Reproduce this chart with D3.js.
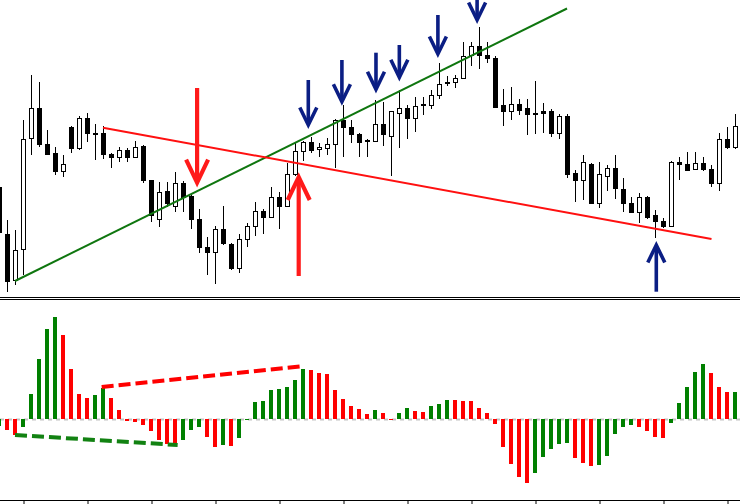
<!DOCTYPE html>
<html>
<head>
<meta charset="utf-8">
<script src="https://cdn.jsdelivr.net/npm/d3@7"></script>
<style>
  html, body { margin: 0; padding: 0; background: #ffffff; }
  svg { display: block; }
</style>
</head>
<body>
<svg id="chart" width="740" height="504"></svg>
<script>
// ---------- DATA (price in arbitrary points) ----------
const openP  = [113,66,20,51,162,192,156,147,128,172,152,181,167,167,146,143,150,143,154,120,81,109,93,117,104,81,53,47,71,56,32,61,73,89,83,103,94,125,149,158,151,152,156,180,172,166,160,159,176,164,187,192,182,196,195,204,218,218,222,244,253,245,242,195,189,196,191,187,189,189,167,184,127,119,136,97,124,132,111,96,88,103,85,79,73,138,136,131,137,131,117,161,153];
const highP  = [115,80,70,180,225,218,170,153,145,174,184,187,176,174,147,153,152,159,155,120,118,118,128,119,105,91,63,74,94,57,66,77,98,91,113,108,137,158,159,163,157,162,181,195,180,167,161,200,198,189,210,195,203,203,210,237,224,225,258,258,273,258,244,211,213,201,201,219,197,191,186,186,130,145,137,138,135,145,122,103,107,104,90,82,139,143,148,148,143,135,167,173,186];
const lowP   = [64,8,15,25,145,153,145,125,123,147,150,158,140,141,132,138,138,143,117,78,73,93,88,88,71,47,25,16,55,30,27,53,64,66,82,71,94,124,139,147,143,145,132,143,157,143,143,158,154,124,152,161,168,185,191,201,214,212,221,234,231,237,193,174,180,185,165,166,167,163,161,122,98,100,96,92,109,101,88,87,77,81,62,72,73,120,129,130,129,113,109,151,151];
const closeP = [67,19,50,161,192,155,146,128,136,152,181,167,165.5,145,142.5,150,143,153,119,85,108,96,117,103,81,53,47,71,57,32,61,73,89,83,103,94,125,148,158,150,153,155,180,172,166,158,158.3,176,166,188,192,182,194,194.3,204,216,217,222,243,254,245,242,193,189,196,190,186,186,187,167,184,126,119,138,97,125,132,112,97,88,103,83,79,73,138,136,130,137,131,117,161,153,174];

// oscillator histogram values
const oscValues = [-6.7,-11,-16,-8,25,60,90,102,84,50,25,21,24,31,21,9,-1.7,-2.7,-6,-11.7,-21,-25,-25.3,-21,-11,-7.7,-17.7,-27.7,-26,-27,-18.7,-1,17,18,29,30,32,39,50,49.5,46,45,29,20,13,10,5,9,6,-0.5,6,11,8,7,13,15,19,18.8,18,17.8,11,6,-5,-27.7,-45,-57.7,-63.7,-53.7,-37.7,-29.7,-24.7,-24.3,-38.7,-43.7,-46.7,-46,-36.7,-14.7,-7.7,-5.7,-7.7,-11.7,-17.7,-18.7,-3.7,16,32,47,55,46,32,27,27.5];

// time-axis ticks (bar indices)
const tickIndex = [3,11,19,27,35,43,51,59,67,75,83,91];

// trend lines on price panel: [barIndex1, price1, barIndex2, price2]
const greenTrend = [1.94, 19, 70.94, 291.5];
const redTrend   = [12.94, 172.3, 89.0, 61];

// divergence lines on oscillator: [barIndex1, value1, barIndex2, value2]
const redDiv   = [12.77, 32, 37.8, 52.7];
const greenDiv = [1.94, -16, 22.27, -26];

// arrows: barIndex, tail price, tip price
const redArrows  = [[24.7, 212, 117.3], [37.4, 24, 123]];
const blueArrows = [[38.6, 220, 175], [42.8, 240, 198.3], [47.06, 247.3, 210.7], [49.98, 255, 222.7], [54.8, 285, 246], [59.7, 300, 280], [82.1, 8.3, 55]];

// ---------- DRAW ----------
const svg = d3.select("#chart");
const n = openP.length;

const x = d3.scaleLinear().domain([0, n - 1]).range([-0.5, 735.5]);
const yP = d3.scaleLinear().domain([0, 300]).range([300, 0]);
const yO = d3.scaleLinear().domain([-80, 80]).range([499, 339]);

const snap = v => Math.round(v - 0.5) + 0.5;

// candles
const candles = svg.append("g");
d3.range(n).forEach(i => {
  const o = openP[i], h = highP[i], l = lowP[i], c = closeP[i];
  const cx = x(i);
  const up = c >= o;
  candles.append("line")
    .attr("x1", cx).attr("x2", cx)
    .attr("y1", Math.round(yP(h))).attr("y2", Math.round(yP(l)))
    .attr("stroke", "#000").attr("stroke-width", 1);
  const top = snap(yP(Math.max(o, c)));
  const bot = snap(yP(Math.min(o, c)));
  candles.append("rect")
    .attr("x", cx - 2).attr("width", 4)
    .attr("y", top).attr("height", Math.max(1, bot - top))
    .attr("fill", up ? "#ffffff" : "#000000")
    .attr("stroke", "#000").attr("stroke-width", 1);
});

// trend lines
function segP(g, arr, color, w) {
  g.append("line")
    .attr("x1", x(arr[0])).attr("y1", yP(arr[1]))
    .attr("x2", x(arr[2])).attr("y2", yP(arr[3]))
    .attr("stroke", color).attr("stroke-width", w);
}
const lines = svg.append("g");
segP(lines, greenTrend, "#0f760f", 2);
segP(lines, redTrend, "#ff1010", 2);

// arrows
function arrow(g, a, color, w, hw, hl) {
  const ax = x(a[0]), y0 = yP(a[1]), y1 = yP(a[2]);
  const dir = y1 > y0 ? 1 : -1;
  g.append("line")
    .attr("x1", ax).attr("y1", y0).attr("x2", ax).attr("y2", y1 - dir * 2)
    .attr("stroke", color).attr("stroke-width", w);
  g.append("path")
    .attr("d", `M${ax - hw},${y1 - dir * hl} L${ax},${y1} L${ax + hw},${y1 - dir * hl}`)
    .attr("fill", "none").attr("stroke", color).attr("stroke-width", w)
    .attr("stroke-linejoin", "miter").attr("stroke-miterlimit", 10);
}
const arrowsG = svg.append("g");
redArrows.forEach(a => arrow(arrowsG, a, "#ff1a1a", 4.2, 11, 23));
blueArrows.forEach(a => arrow(arrowsG, a, "#0b1e84", 3.6, 8.5, 17.5));

// separator
svg.append("line").attr("x1", 0).attr("x2", 740).attr("y1", 297.5).attr("y2", 297.5).attr("stroke", "#000");
svg.append("line").attr("x1", 0).attr("x2", 740).attr("y1", 299.5).attr("y2", 299.5).attr("stroke", "#000");

// oscillator zero line
svg.append("line")
  .attr("x1", 0).attr("x2", 740)
  .attr("y1", Math.round(yO(0)) + 0.5).attr("y2", Math.round(yO(0)) + 0.5)
  .attr("stroke", "#c4c4c4").attr("stroke-width", 2).attr("stroke-dasharray", "4,4");

// histogram
const hist = svg.append("g");
oscValues.forEach((v, i) => {
  const rising = i === 0 ? true : v > oscValues[i - 1];
  const y0 = Math.round(yO(Math.max(0, v)));
  const y1 = Math.round(yO(Math.min(0, v)));
  hist.append("rect")
    .attr("x", x(i) - 2.5).attr("width", 4)
    .attr("y", y0).attr("height", Math.max(1, y1 - y0))
    .attr("fill", rising ? "#008000" : "#ff0000");
});

// divergence dashed lines
function segO(g, arr, color) {
  g.append("line")
    .attr("x1", x(arr[0])).attr("y1", yO(arr[1]))
    .attr("x2", x(arr[2])).attr("y2", yO(arr[3]))
    .attr("stroke", color).attr("stroke-width", 4)
    .attr("stroke-dasharray", "12,5");
}
const div = svg.append("g");
segO(div, redDiv, "#ff0000");
segO(div, greenDiv, "#128212");

// bottom time axis
const axis = d3.axisBottom(x)
  .tickValues(tickIndex)
  .tickSize(4)
  .tickSizeOuter(0)
  .tickFormat("");
const ax = svg.append("g").attr("transform", "translate(0,500.5)").call(axis);
ax.select(".domain").attr("d", "M0,0H740").attr("stroke", "#000");
ax.selectAll(".tick line").attr("stroke", "#000");
</script>
</body>
</html>
